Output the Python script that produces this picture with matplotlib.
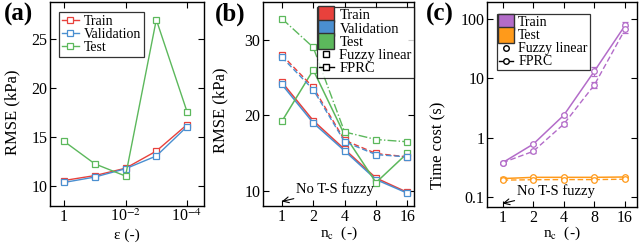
import matplotlib
matplotlib.use("Agg")
import matplotlib.pyplot as plt
from matplotlib.lines import Line2D
from matplotlib.ticker import FixedLocator, NullLocator, FixedFormatter

plt.rcParams['font.family'] = ['Liberation Serif', 'DejaVu Serif']
plt.rcParams['mathtext.fontset'] = 'stix'
plt.rcParams['font.size'] = 12

# ---- data ----
eps = [1, 1e-1, 1e-2, 1e-3, 1e-4]
a_train = [10.6, 11.1, 11.85, 13.6, 16.3]
a_val = [10.4, 10.95, 11.8, 13.1, 16.1]
a_test = [14.6, 12.3, 11.05, 27.0, 17.6]

nc = [1, 2, 4, 8, 16]
b_train_fprc = [24.4, 19.3, 15.5, 11.7, 9.8]
b_val_fprc = [24.1, 19.0, 15.3, 11.5, 9.7]
b_test_fprc = [19.2, 26.0, 17.4, 11.1, 15.0]
b_train_fl = [28.0, 23.7, 16.7, 14.95, 14.5]
b_val_fl = [27.7, 23.4, 16.5, 14.8, 14.5]
b_test_fl = [32.8, 29.0, 17.8, 16.8, 16.5]

c_train_fprc = [0.38, 0.78, 2.4, 13.3, 78]
c_train_fprc_err = [0.015, 0.04, 0.15, 2.5, 10]
c_train_fl = [0.38, 0.59, 1.7, 7.8, 67]
c_train_fl_err = [0.015, 0.03, 0.12, 1.0, 8]
c_test_fprc = [0.205, 0.215, 0.215, 0.215, 0.218]
c_test_fprc_err = [0.01, 0.008, 0.008, 0.008, 0.008]
c_test_fl = [0.193, 0.196, 0.197, 0.197, 0.2]
c_test_fl_err = [0.008, 0.006, 0.006, 0.006, 0.006]

RED = '#e8413c'
BLUE = '#4a8fd0'
GREEN = '#5cb85c'
PURPLE = '#b36cc9'
ORANGE = '#ff9a1a'

fig = plt.figure(figsize=(6.4, 2.43), dpi=100)
axa = fig.add_axes([50/640, 37/243, 154/640, 204/243])
axb = fig.add_axes([263/640, 37/243, 151/640, 204/243])
axc = fig.add_axes([487/640, 36/243, 150/640, 205/243])

def style(ax):
    ax.tick_params(direction='in', top=True, right=True, which='both', length=4, width=0.8,
                   labelsize=11.5, pad=2)
    for s in ax.spines.values():
        s.set_linewidth(1.0)

def place_xlabel(ax, text, y):
    ax.set_xlabel(text, fontsize=11)
    ax.xaxis.set_label_coords(0.5, y)
    ax.xaxis.label.set_va('bottom')

# ---- (a) ----
mk = dict(marker='s', ms=4, mfc='white', mew=0.9, lw=1.0)
axa.plot(eps, a_train, color=RED, label='Train', **mk)
axa.plot(eps, a_val, color=BLUE, label='Validation', **mk)
axa.plot(eps, a_test, color=GREEN, label='Test', **mk)
axa.set_xscale('log')
axa.set_xlim(10**0.455, 10**-4.55)
axa.set_ylim(8, 28.8)
axa.xaxis.set_major_locator(FixedLocator([1, 1e-2, 1e-4]))
axa.xaxis.set_major_formatter(FixedFormatter(['1', r'10$^{-2}$', r'10$^{-4}$']))
axa.xaxis.set_minor_locator(NullLocator())
axa.set_yticks([10, 15, 20, 25])
place_xlabel(axa, 'ε (-)', -0.175)
axa.set_ylabel('RMSE (kPa)')
axa.yaxis.set_label_coords(-0.19, 0.46)
style(axa)
leg = axa.legend(loc='upper left', bbox_to_anchor=(0.06, 0.95), fontsize=10, frameon=True,
                 fancybox=False, edgecolor='black', handlelength=1.2, handletextpad=0.4,
                 borderpad=0.2, labelspacing=0.0, borderaxespad=0.0)
leg.get_frame().set_linewidth(0.9)

# ---- (b) ----
mkb = dict(marker='s', ms=4, mfc='white', mew=0.9)
for y, c in [(b_train_fprc, RED), (b_val_fprc, BLUE), (b_test_fprc, GREEN)]:
    axb.plot(nc, y, color=c, lw=1.1, ls='-', **mkb)
for y, c in [(b_train_fl, RED), (b_val_fl, BLUE)]:
    axb.plot(nc, y, color=c, lw=1.0, ls=(0, (4, 2)), **mkb)
axb.plot(nc, b_test_fl, color=GREEN, lw=1.0, ls='-.', **mkb)
axb.set_xscale('log', base=2)
axb.set_xlim(2**-0.6, 2**4.21)
axb.set_ylim(8, 35)
axb.set_xticks(nc)
axb.set_xticklabels([str(v) for v in nc])
axb.xaxis.set_minor_locator(NullLocator())
axb.set_yticks([10, 20, 30])
place_xlabel(axb, r'n$_{\rm c}$  (-)', -0.178)
axb.set_ylabel('RMSE (kPa)')
axb.yaxis.set_label_coords(-0.23, 0.47)
style(axb)
hb = [Line2D([], [], ls='none', marker='s', ms=11, mfc=RED, mec='#333333', mew=1.0),
      Line2D([], [], ls='none', marker='s', ms=11, mfc=BLUE, mec='#333333', mew=1.0),
      Line2D([], [], ls='none', marker='s', ms=11, mfc=GREEN, mec='#333333', mew=1.0),
      Line2D([], [], ls='none', marker='s', ms=4, mfc='white', mec='black', mew=1.0),
      Line2D([], [], ls='-', color='black', lw=1.0, marker='s', ms=4, mfc='white', mec='black', mew=1.0)]
leg = axb.legend(hb, ['Train', 'Validation', 'Test', 'Fuzzy linear', 'FPRC'], loc='upper right',
                 bbox_to_anchor=(1.0, 0.975), fontsize=10.5, frameon=True, fancybox=False,
                 edgecolor='black', handlelength=1.0, handletextpad=0.4, borderpad=0.15,
                 labelspacing=0.0, borderaxespad=0.0)
leg.get_frame().set_linewidth(0.9)
axb.annotate('No T-S fuzzy', xy=(1, 8.6), xytext=(10, 9), textcoords='offset points',
             fontsize=10.5, va='center', ha='left',
             arrowprops=dict(arrowstyle='->', color='black', lw=0.8, shrinkA=0, shrinkB=0))

# ---- (c) ----
mkc = dict(marker='o', ms=4, mfc='white', mew=0.9, capsize=2, elinewidth=0.8)
axc.errorbar(nc, c_train_fprc, yerr=c_train_fprc_err, color=PURPLE, lw=1.1, ls='-', **mkc)
axc.errorbar(nc, c_train_fl, yerr=c_train_fl_err, color=PURPLE, lw=1.0, ls=(0, (4, 2)), **mkc)
axc.errorbar(nc, c_test_fprc, yerr=c_test_fprc_err, color=ORANGE, lw=1.1, ls='-', **mkc)
axc.errorbar(nc, c_test_fl, yerr=c_test_fl_err, color=ORANGE, lw=1.0, ls=(0, (4, 2)), **mkc)
axc.set_xscale('log', base=2)
axc.set_yscale('log')
axc.set_xlim(2**-0.51, 2**4.39)
axc.set_ylim(0.068, 194)
axc.set_xticks(nc)
axc.set_xticklabels([str(v) for v in nc])
axc.xaxis.set_minor_locator(NullLocator())
axc.yaxis.set_major_locator(FixedLocator([0.1, 1, 10, 100]))
axc.yaxis.set_major_formatter(FixedFormatter(['0.1', '1', '10', '100']))
axc.yaxis.set_minor_locator(NullLocator())
place_xlabel(axc, r'n$_{\rm c}$  (-)', -0.172)
axc.set_ylabel('Time cost (s)')
axc.yaxis.set_label_coords(-0.27, 0.30)
style(axc)
hc = [Line2D([], [], ls='none', marker='s', ms=11, mfc=PURPLE, mec='#333333', mew=1.0),
      Line2D([], [], ls='none', marker='s', ms=11, mfc=ORANGE, mec='#333333', mew=1.0),
      Line2D([], [], ls='none', marker='o', ms=4, mfc='white', mec='black', mew=1.0),
      Line2D([], [], ls='-', color='black', lw=1.0, marker='o', ms=4, mfc='white', mec='black', mew=1.0)]
leg = axc.legend(hc, ['Train', 'Test', 'Fuzzy linear', 'FPRC'], loc='upper left',
                 bbox_to_anchor=(0.065, 0.94), fontsize=10, frameon=True, fancybox=False,
                 edgecolor='black', handlelength=1.0, handletextpad=0.4, borderpad=0.15,
                 labelspacing=0.0, borderaxespad=0.0)
leg.get_frame().set_linewidth(0.9)
axc.annotate('No T-S fuzzy', xy=(1, 0.078), xytext=(10, 9), textcoords='offset points',
             fontsize=10.5, va='center', ha='left',
             arrowprops=dict(arrowstyle='->', color='black', lw=0.8, shrinkA=0, shrinkB=0))

# panel labels
for x, lab in [(4/640, '(a)'), (215/640, '(b)'), (426/640, '(c)')]:
    fig.text(x, 0.99, lab, fontsize=18, fontweight='bold', va='top', ha='left')

fig.savefig('out.png', dpi=100)
